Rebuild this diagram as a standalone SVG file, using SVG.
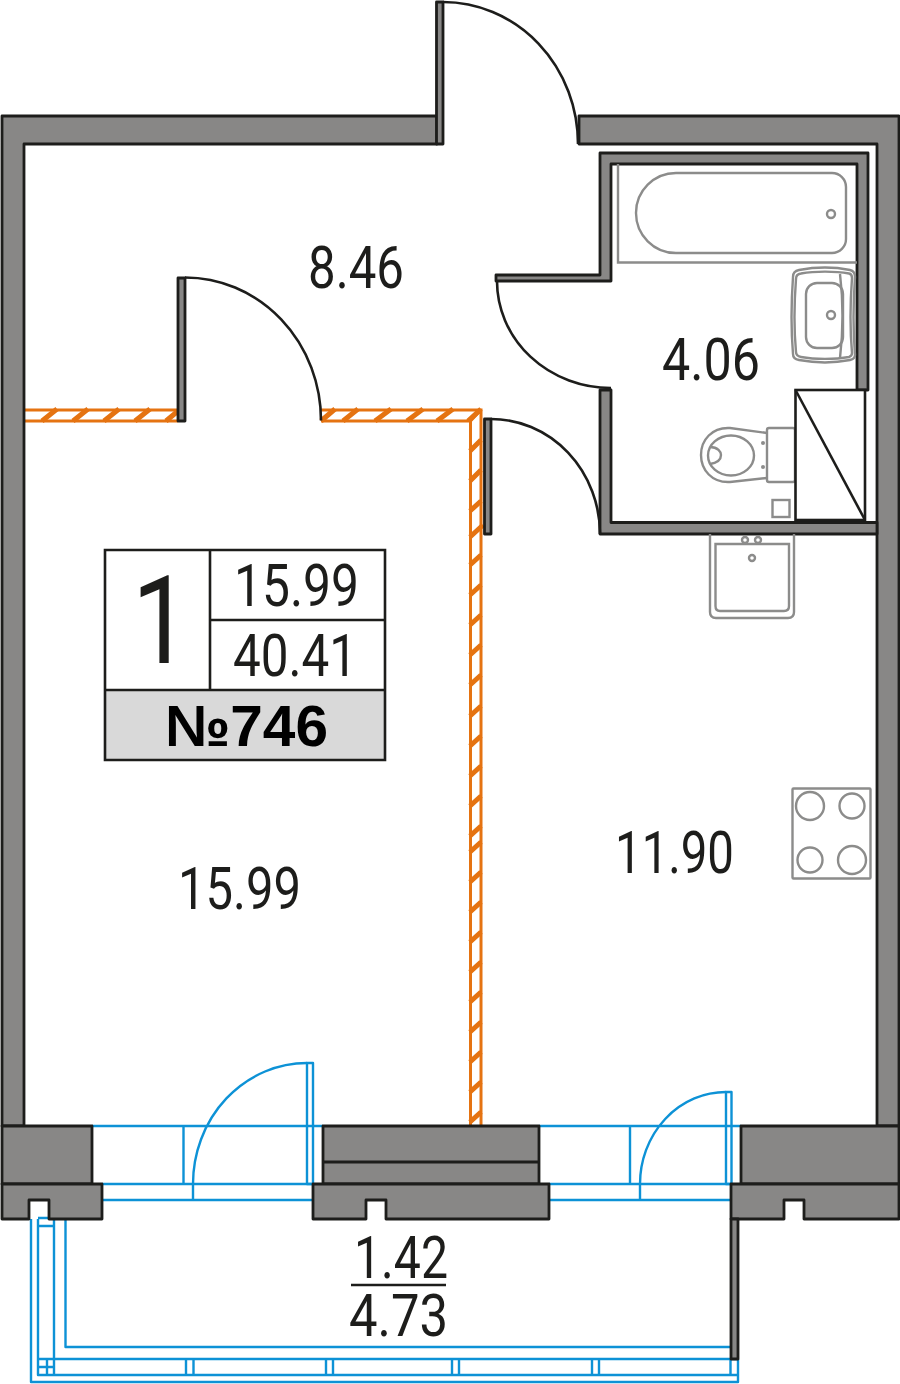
<svg xmlns="http://www.w3.org/2000/svg" width="900" height="1384" viewBox="0 0 900 1384">
<style>
.w{fill:#888786;stroke:#1d1d1b;stroke-width:2.8;stroke-linejoin:round}
.a{fill:none;stroke:#1d1d1b;stroke-width:2.6}
.o{fill:none;stroke:#e57311;stroke-width:3}
.h{fill:none;stroke:#e57311;stroke-width:5}
.b{fill:none;stroke:#0d92d6;stroke-width:2.400;stroke-linejoin:round}
.g{fill:none;stroke:#8c8c8b;stroke-width:2.400}
.t{font-family:Roboto,"Liberation Sans",Arial,sans-serif;font-size:60px;fill:#1d1d1b}
</style>
<rect width="900" height="1384" fill="#fff"/>
<g id="partitions">
<path class="o" d="M24,410H178M24,421H178M321,410H481V1126M321,421H470.500V1126M481,410L470.500,421"/>
<path class="h" d="M42,421L57,409M73,421L88,409M104,421L119,409M135,421L150,409M166,421L178,411M321,421L335,409M343,421L358,409M375,421L391,409M407,421L423,409M437,421L453,409M468,421L481,409"/>
<path class="h" d="M470,451L481,440M470,481L481,470M470,511L481,501M470,537L483,525M470,565L481,555M470,595L481,585M470,625L481,615M470,655L481,645M470,685L481,675M470,716L481,706M470,746L481,736M470,776L481,766M470,806L481,796M470,836L481,826M470,852L481,842M470,882L481,872M470,912L481,902M470,942L481,932M470,972L481,962M470,1002L481,992M470,1032L481,1022M470,1062L481,1052M470,1092L481,1082M470,1122L481,1112"/>
</g>
<g id="balcony-glazing">
<path class="b" d="M92,1126H323M102,1184H313M102,1200H313M183.500,1126V1184M193,1184V1200M193,1184A114,121 0 0 1 307,1063"/>
<rect class="b" x="307" y="1063" width="6" height="121"/>
<path class="b" d="M539,1126H741M549,1184H731M549,1200H731M630,1126V1184M640,1184V1200M640,1184A86,92 0 0 1 726,1092"/>
<rect class="b" x="726" y="1092" width="5.500" height="92"/>
<path class="b" d="M31,1219V1382H738V1359M38,1219V1375H738M38,1218H54V1375M38,1226H54M38,1359H738M38,1367H54M47,1359V1375M65.500,1219V1347H731M186,1359V1375M193.500,1359V1375M326,1359V1375M333,1359V1375M452,1359V1375M459,1359V1375M592,1359V1375M599,1359V1375M730.500,1359V1375"/>
</g>
<g id="walls">
<path class="w" d="M437,116H2V1126H24V144H437Z"/>
<path class="w" d="M579,116H899V1126H877V144H579Z"/>
<path class="w" d="M2,1126H92V1184H2Z"/>
<path class="w" d="M2,1184H102V1219H49V1200H29V1219H2Z"/>
<path class="w" d="M323,1126H539V1184H323Z"/>
<path class="w" d="M323,1162H539" fill="none"/>
<path class="w" d="M313,1184H549V1219H386V1200H366V1219H313Z"/>
<path class="w" d="M741,1126H899V1184H741Z"/>
<path class="w" d="M731,1184H899V1219H804V1200H784V1219H731Z"/>
<path class="w" d="M731,1219H738V1359H731Z"/>
<path class="w" d="M600,153H868V390H857V164H611V281H496V275H600Z"/>
<path class="w" d="M600,390H611V522.500H877V534H600Z"/>
</g>
<g id="doors">
<rect class="w" x="436.500" y="2" width="6.500" height="142"/>
<path class="a" d="M443,2A135,142 0 0 1 578,144"/>
<rect class="w" x="178" y="278" width="7" height="143"/>
<path class="a" d="M185,277.500A136,143 0 0 1 321,420.500"/>
<path class="a" d="M497,281A114,107 0 0 0 611,388"/>
<rect class="w" x="484.500" y="419" width="6.500" height="115"/>
<path class="a" d="M491,419A109,115 0 0 1 600,534"/>
</g>
<g id="fixtures">
<path class="g" d="M618,164V262.500H857"/>
<path class="g" d="M676,173H832A14,14 0 0 1 846,187V239A14,14 0 0 1 832,253H676A40,40 0 0 1 676,173Z"/>
<circle class="g" cx="831" cy="214" r="4"/>
<path class="g" d="M799,270C815,267 835,267 850,270Q855,271 855,277C853,305 853,330 855,355Q855,359 850,360C835,363 815,363 799,360Q793,359 793,354C791,330 791,305 793,277Q793,271 799,270Z"/>
<path class="g" d="M801,273.500C815,271 835,271 849,273.500Q852,274 852,278C850,305 850,330 852,353Q852,356 849,357C835,359.500 815,359.500 801,357Q796,356 796,352C794,330 794,305 796,279Q796,274 801,273.500Z"/>
<path class="g" d="M840,274Q845,315 840,358"/>
<rect class="g" x="806" y="283" width="37" height="65" rx="11"/>
<circle class="g" cx="831" cy="315" r="4"/>
<path class="g" d="M767,433L730,428C712,427 701,440 701,455C701,470 712,483 730,482L767,478"/>
<rect class="g" x="767" y="428" width="28" height="54" rx="2"/>
<ellipse class="g" cx="731" cy="455.500" rx="23" ry="20"/>
<path class="g" d="M710,447C718,447 721,452 721,455C721,460 716,463 710,464"/>
<circle cx="763" cy="443" r="2" fill="#8c8c8b"/>
<circle cx="763" cy="467" r="2" fill="#8c8c8b"/>
<rect class="g" x="772.500" y="500" width="17" height="17"/>
<rect x="795.500" y="390" width="69.500" height="130" fill="#fff" stroke="#1d1d1b" stroke-width="2.600"/>
<path class="a" d="M795.500,390L865,520"/>
<path class="g" d="M710,534V612Q710,618 716,618H788Q794,618 794,612V534"/>
<path class="g" d="M715.500,544H789V606Q789,611 784,611H720Q715.500,611 715.500,606Z"/>
<circle class="g" cx="745" cy="540" r="3"/>
<circle class="g" cx="758" cy="540" r="3"/>
<circle class="g" cx="752" cy="558" r="3"/>
<rect class="g" x="792.500" y="788.500" width="78" height="90" rx="1"/>
<circle class="g" cx="810" cy="806" r="14"/>
<circle class="g" cx="852" cy="806" r="12.500"/>
<circle class="g" cx="810" cy="860" r="12.500"/>
<circle class="g" cx="852" cy="860" r="14"/>
</g>
<g id="info-box">
<rect x="105" y="690" width="280" height="70" fill="#d9d9d9"/>
<path d="M105,550H385V760H105ZM105,690H385M210,550V690M210,620H385" fill="none" stroke="#1d1d1b" stroke-width="2.600"/>
<text class="t" x="132" y="663" textLength="58" lengthAdjust="spacingAndGlyphs" style="font-size:122px">1</text>
<text class="t" x="234" y="606" textLength="125" lengthAdjust="spacingAndGlyphs">15.99</text>
<text class="t" x="233" y="676" textLength="124" lengthAdjust="spacingAndGlyphs">40.41</text>
<text class="t" x="165" y="746" textLength="163" lengthAdjust="spacingAndGlyphs" style="font-family:'Liberation Sans',Arial,sans-serif;font-weight:bold;font-size:58px;fill:#000">№746</text>
</g>
<g id="labels">
<text class="t" x="308" y="288" textLength="96" lengthAdjust="spacingAndGlyphs">8.46</text>
<text class="t" x="662" y="380" textLength="98" lengthAdjust="spacingAndGlyphs">4.06</text>
<text class="t" x="615" y="873" textLength="119" lengthAdjust="spacingAndGlyphs">11.90</text>
<text class="t" x="178" y="909" textLength="123" lengthAdjust="spacingAndGlyphs">15.99</text>
<text class="t" x="354" y="1278" textLength="94" lengthAdjust="spacingAndGlyphs">1.42</text>
<path d="M351,1285H446" stroke="#1d1d1b" stroke-width="2.600"/>
<text class="t" x="349" y="1336" textLength="99" lengthAdjust="spacingAndGlyphs">4.73</text>
</g>
</svg>
